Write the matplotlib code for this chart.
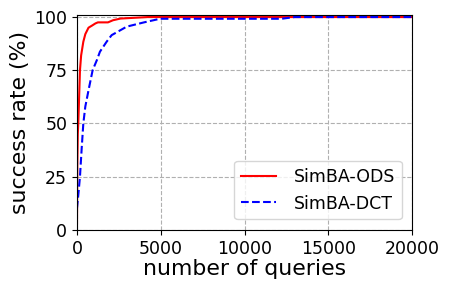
import matplotlib
matplotlib.use("Agg")
import matplotlib.pyplot as plt

ods_x = [0, 20, 50, 80, 120, 180, 250, 380, 500, 690, 900, 1100, 1250, 1850, 2150, 2600, 4240, 20000]
ods_y = [0, 30, 45, 50, 60, 75, 82, 88.4, 92, 95, 96, 97, 97.5, 97.5, 98.5, 99.3, 100, 100]

dct_x = [0, 50, 100, 180, 280, 380, 500, 700, 935, 1200, 1370, 1770, 2070, 2970, 4000, 4960, 12200, 13000, 20000]
dct_y = [10, 14, 18, 25, 38, 50, 58, 66, 75, 80, 83.7, 88.4, 91.5, 95.5, 97.5, 99.2, 99.2, 100, 100]

x_ticks = [0, 5000, 10000, 15000, 20000]
y_ticks = [0, 25, 50, 75, 100]

fig = plt.figure(figsize=(4.5, 2.87), dpi=100)
ax = fig.add_axes([0.171, 0.199, 0.745, 0.749])
ax.plot(ods_x, ods_y, color="red", linestyle="-", linewidth=1.5, label="SimBA-ODS")
ax.plot(dct_x, dct_y, color="blue", linestyle="--", linewidth=1.5, label="SimBA-DCT")
ax.set_xlim(0, 20000)
ax.set_ylim(0, 101)
ax.set_xticks(x_ticks)
ax.set_yticks(y_ticks)
ax.tick_params(labelsize=12.5)
ax.grid(True, linestyle="--", color="#b0b0b0", linewidth=0.8)
ax.set_xlabel("number of queries", fontsize=15.8, labelpad=1)
ax.set_ylabel("success rate (%)", fontsize=15.8, labelpad=3)
ax.legend(loc="lower right", fontsize=12.5, handletextpad=1.0, borderaxespad=0.6)
fig.savefig("out.png", dpi=100)
